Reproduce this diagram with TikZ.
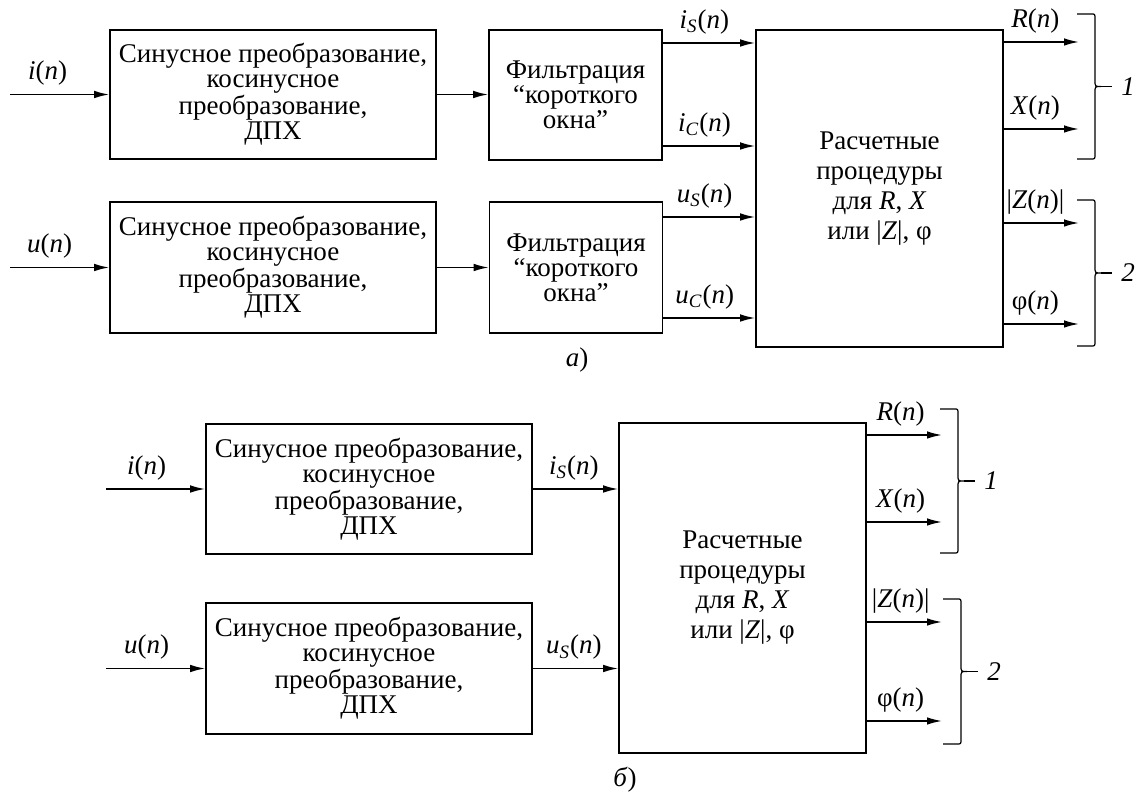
\documentclass[tikz,border=0pt]{standalone}
\usepackage{fontspec}
\setmainfont{Liberation Serif}
\usetikzlibrary{arrows.meta}

\newcommand{\sig}[2]{\textit{#1}\textsubscript{\textit{#2}}(\textit{n})}
% bracket with a short tail: name, left x, top y, bottom y, text
\newcommand{\outbrace}[5]{%
  \draw[line width=0.6pt] (#2,#3) -- ({#2+14},#3) .. controls ({#2+18},#3) .. ({#2+18},{#3+5})
    -- ({#2+18},{(#3+#4)/2-6}) .. controls ({#2+18},{(#3+#4)/2}) .. ({#2+24},{(#3+#4)/2})
    .. controls ({#2+18},{(#3+#4)/2}) .. ({#2+18},{(#3+#4)/2+6})
    -- ({#2+18},{#4-5}) .. controls ({#2+18},#4) .. ({#2+14},#4) -- (#2,#4);
  \coordinate (#1tip) at ({#2+24},{(#3+#4)/2});
  \node[lbl, anchor=west, inner sep=0pt] (#1) at ({#2+44},{(#3+#4)/2}) {\textit{#5}};
  \draw[line width=0.6pt] (#1tip) -- ++(11,0);
}

\begin{document}
\begin{tikzpicture}[x=0.5pt,y=0.5pt,yscale=-1,
    blk/.style={draw, line width=0.8pt, align=center, inner sep=1pt, font=\fontsize{13.5}{12.5}\selectfont},
    lbl/.style={font=\fontsize{13.5}{14}\selectfont, inner xsep=1pt, inner ysep=4pt},
    arr/.style={line width=0.8pt, -{Latex[length=7.5pt,width=3.8pt]}}]
\useasboundingbox (0,0) rectangle (1142,796);

% а)
\node[blk, minimum width=163pt, minimum height=64.5pt] (trI) at (273,94.5) {Синусное преобразование,\\косинусное\\преобразование,\\ДПХ};
\node[blk, minimum width=86.5pt, minimum height=65pt] (flI) at (575.5,95) {Фильтрация\\“короткого\\окна”};
\node[blk, minimum width=163pt, minimum height=65.5pt] (trU) at (273,267.5) {Синусное преобразование,\\косинусное\\преобразование,\\ДПХ};
\node[blk, minimum width=86.5pt, minimum height=65.5pt] (flU) at (576,267.5) {Фильтрация\\“короткого\\окна”};
\node[blk, minimum width=123.5pt, minimum height=158.5pt, font=\fontsize{13.5}{15}\selectfont] (calc) at (879.5,188.5) {Расчетные\\процедуры\\для \textit{R}, \textit{X}\\или |\textit{Z}|, φ};

\coordinate (inI) at (10,94.5);
\coordinate (inU) at (10,267.5);
\draw[arr] (inI) -- node[lbl, above, pos=0.38] {\textit{i}(\textit{n})} (trI);
\draw[arr] (inU) -- node[lbl, above, pos=0.4] {\textit{u}(\textit{n})} (trU);
\draw[arr] (trI.east) -- (trI.east -| flI.west);
\draw[arr] (trU.east) -- (trU.east -| flU.west);

\draw[arr] (flI.east |- 0,43) -- node[lbl, above, pos=0.45] {\sig{i}{S}} (calc.west |- 0,43);
\draw[arr] (flI.east |- 0,146) -- node[lbl, above, pos=0.45] {\sig{i}{C}} (calc.west |- 0,146);
\draw[arr] (flU.east |- 0,217) -- node[lbl, above, pos=0.45] {\sig{u}{S}} (calc.west |- 0,217);
\draw[arr] (flU.east |- 0,318) -- node[lbl, above, pos=0.45] {\sig{u}{C}} (calc.west |- 0,318);

\coordinate (oR) at (1079,42);
\coordinate (oX) at (1079,129);
\coordinate (oZ) at (1079,223);
\coordinate (oF) at (1079,324);
\draw[arr] (calc.east |- oR) -- node[lbl, above, pos=0.42] {\textit{R}(\textit{n})} (oR);
\draw[arr] (calc.east |- oX) -- node[lbl, above, pos=0.42] {\textit{X}(\textit{n})} (oX);
\draw[arr] (calc.east |- oZ) -- node[lbl, above, pos=0.42] {|\textit{Z}(\textit{n})|} (oZ);
\draw[arr] (calc.east |- oF) -- node[lbl, above, pos=0.42] {φ(\textit{n})} (oF);

\outbrace{grpA}{1077}{14}{159}{1}
\outbrace{grpB}{1077}{200}{346}{2}

\node[lbl] (capA) at (577,360) {\textit{а})};

% б)
\node[blk, minimum width=163pt, minimum height=65pt] (trI2) at (369,489) {Синусное преобразование,\\косинусное\\преобразование,\\ДПХ};
\node[blk, minimum width=163pt, minimum height=65.5pt] (trU2) at (369,668.5) {Синусное преобразование,\\косинусное\\преобразование,\\ДПХ};
\node[blk, minimum width=123.5pt, minimum height=165pt, font=\fontsize{13.5}{15}\selectfont] (calc2) at (742.5,588) {Расчетные\\процедуры\\для \textit{R}, \textit{X}\\или |\textit{Z}|, φ};

\coordinate (inI2) at (106,489);
\coordinate (inU2) at (106,668.5);
\draw[arr] (inI2) -- node[lbl, above, pos=0.41] {\textit{i}(\textit{n})} (trI2);
\draw[arr] (inU2) -- node[lbl, above, pos=0.41] {\textit{u}(\textit{n})} (trU2);
\draw[arr] (trI2.east) -- node[lbl, above, pos=0.48] {\sig{i}{S}} (trI2.east -| calc2.west);
\draw[arr] (trU2.east) -- node[lbl, above, pos=0.48] {\sig{u}{S}} (trU2.east -| calc2.west);

\coordinate (oR2) at (942,435);
\coordinate (oX2) at (942,522);
\coordinate (oZ2) at (942,622);
\coordinate (oF2) at (942,721);
\draw[arr] (calc2.east |- oR2) -- node[lbl, above, pos=0.45] {\textit{R}(\textit{n})} (oR2);
\draw[arr] (calc2.east |- oX2) -- node[lbl, above, pos=0.45] {\textit{X}(\textit{n})} (oX2);
\draw[arr] (calc2.east |- oZ2) -- node[lbl, above, pos=0.45] {|\textit{Z}(\textit{n})|} (oZ2);
\draw[arr] (calc2.east |- oF2) -- node[lbl, above, pos=0.45] {φ(\textit{n})} (oF2);

\outbrace{grpC}{940}{409}{553}{1}
\outbrace{grpD}{943}{599}{744}{2}

\node[lbl] (capB) at (625,780) {\textit{б})};
\end{tikzpicture}
\end{document}
